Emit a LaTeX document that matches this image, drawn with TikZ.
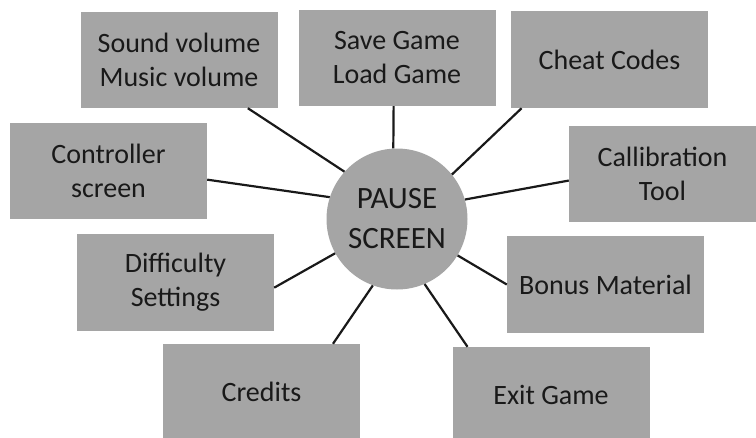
\documentclass[tikz,border=0pt]{standalone}
\usepackage{fontspec}
\setmainfont{Carlito}
\definecolor{boxgray}{RGB}{165,165,165}
\definecolor{txt}{RGB}{25,25,25}
\tikzset{
  box/.style={rectangle, fill=boxgray, minimum width=197pt, minimum height=96pt, inner sep=0pt,
    align=center, text=txt, font=\fontsize{28}{34}\selectfont},
  hub/.style={circle, fill=boxgray, minimum size=141pt, inner sep=0pt, align=center, text=txt,
    font=\fontsize{31}{40}\selectfont},
  link/.style={draw=black!90, line width=2.2pt}
}
\begin{document}
\begin{tikzpicture}[x=1pt,y=-1pt]
\useasboundingbox (0,0) rectangle (756,437);
\clip (0,0) rectangle (756,437);
\node[hub] (c) at (397,219) {PAUSE\\SCREEN};
\node[box] (snd) at (179,60) {Sound volume\\Music volume};
\node[box] (save) at (397,58) {Save Game\\Load Game};
\node[box, minimum height=97pt] (cheat) at (609.5,59.5) {Cheat Codes};
\node[box] (ctrl) at (108.5,171) {Controller\\screen};
\node[box, minimum width=187pt] (calib) at (662.5,174) {Callibration\\Tool};
\node[box, minimum height=97pt] (diff) at (175.5,282.5) {Difficulty\\Settings};
\node[box, minimum height=97pt] (bonus) at (605.5,284.5) {Bonus Material};
\node[box] (credits) at (261.5,392) {Credits};
\node[box] (exit) at (551,395) {Exit Game};
\draw[link] (snd.-35) -- (c.138);
\draw[link] (save.-94) -- (c.93);
\draw[link] (cheat.-151) -- (c.39);
\draw[link] (ctrl.-5) -- (c.162);
\draw[link] (calib.-176) -- (c.16);
\draw[link] (diff.-3) -- (c.-151);
\draw[link] (bonus.west) -- (c.-31);
\draw[link] (credits.34) -- (c.-110);
\draw[link] (exit.150) -- (c.-67);
\end{tikzpicture}
\end{document}
